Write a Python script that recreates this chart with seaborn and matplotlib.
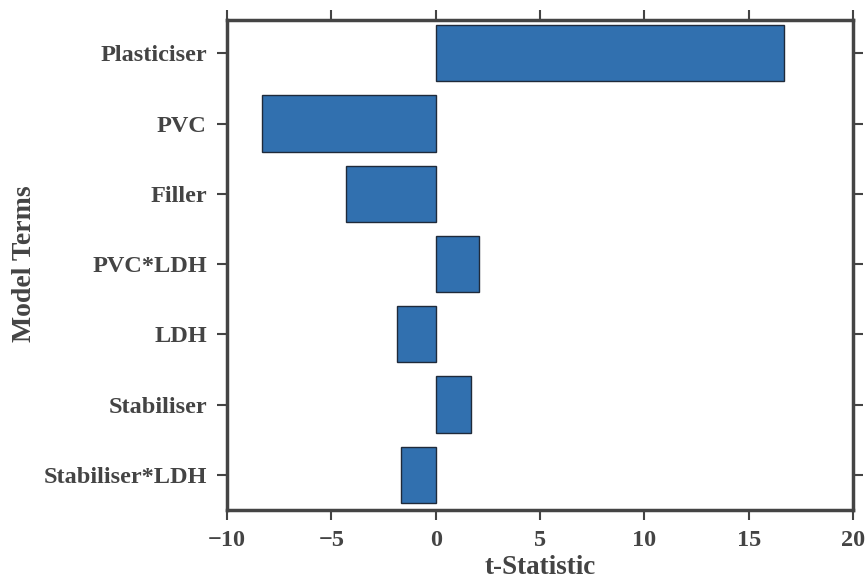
import matplotlib
matplotlib.use("Agg")
import matplotlib.pyplot as plt
import seaborn as sns
import pandas as pd

terms = ["Plasticiser", "PVC", "Filler", "PVC*LDH", "LDH", "Stabiliser", "Stabiliser*LDH"]
t_values = [16.7, -8.3, -4.3, 2.1, -1.85, 1.7, -1.65]
x_ticks = [-10, -5, 0, 5, 10, 15, 20]

df = pd.DataFrame({"term": terms, "t": t_values})

sns.set_style("white")
plt.rcParams["font.family"] = ["Liberation Serif", "DejaVu Serif"]
plt.rcParams["font.weight"] = "bold"
txt = "#444444"

fig = plt.figure(figsize=(8.68, 5.82), dpi=100)
ax = fig.add_axes([227/868, 1-510/582, (853-227)/868, (510-19.5)/582])
sns.barplot(data=df, x="t", y="term", orient="h", color="#3170AF", saturation=1,
            edgecolor="#1f2a3a", linewidth=1, width=0.8, ax=ax)
ax.set_xlim(-10, 20)
ax.set_ylim(6.5, -0.48)
ax.set_xticks(x_ticks)
ax.set_xticklabels(["\u2212" + str(-v) if v < 0 else str(v) for v in x_ticks])
for s in ax.spines.values():
    s.set_color(txt)
    s.set_linewidth(2.5)
ax.tick_params(axis="both", which="both", direction="out", length=7, width=1.5,
               color=txt, labelcolor=txt, labelsize=17.5, top=True, right=True,
               bottom=True, left=True, pad=7.5)
for lab in ax.get_xticklabels() + ax.get_yticklabels():
    lab.set_fontweight("bold")
ax.set_xlabel("t-Statistic", fontsize=19.5, fontweight="bold", color=txt, labelpad=3)
ax.set_ylabel("Model Terms", fontsize=20, fontweight="bold", color=txt)
ax.yaxis.set_label_coords(37/868, 1 - 264/582, transform=fig.transFigure)
fig.savefig("out.png", dpi=100)
